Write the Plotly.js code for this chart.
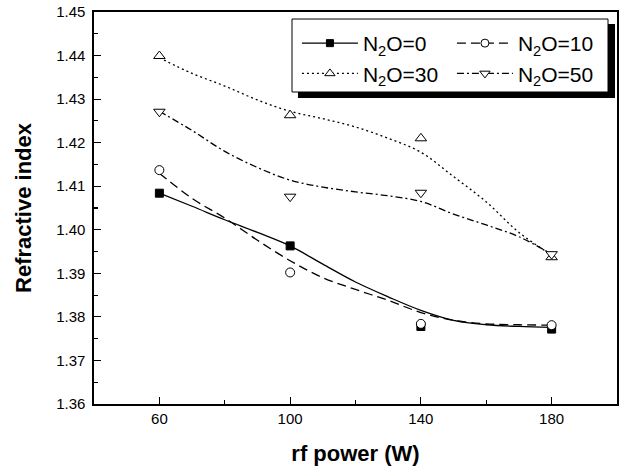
<!DOCTYPE html>
<html>
<head>
<meta charset="utf-8">
<script src="https://cdn.plot.ly/plotly-3.0.1.min.js"></script>
<style>html,body{margin:0;padding:0;background:#fff;}#chart{width:622px;height:470px;}</style>
</head>
<body>
<div id="chart"></div>
<script>
// measured points
const power = [60, 100, 140, 180];
const n0  = [1.4084, 1.3963, 1.3778, 1.3772];
const n10 = [1.4137, 1.3902, 1.3784, 1.3781];
const n30 = [1.4399, 1.4263, 1.4210, 1.3937];
const n50 = [1.4271, 1.4076, 1.4085, 1.3944];

// smoothed curves
const fitPower = [60, 70, 80, 90, 100, 110, 120, 130, 140, 150, 160, 170, 180];
const fit0  = [1.4084, 1.4054, 1.4023, 1.3994, 1.3963, 1.3921, 1.3880, 1.3846, 1.3815, 1.3792, 1.3782, 1.3778, 1.3776];
const fit10 = [1.4130, 1.4072, 1.4027, 1.3976, 1.3929, 1.3890, 1.3863, 1.3838, 1.3810, 1.3792, 1.3784, 1.3782, 1.3781];
const fit30 = [1.4395, 1.4359, 1.4330, 1.4298, 1.4272, 1.4255, 1.4236, 1.4210, 1.4178, 1.4122, 1.4064, 1.3994, 1.3942];
const fit50 = [1.4272, 1.4228, 1.4180, 1.4143, 1.4114, 1.4098, 1.4087, 1.4078, 1.4065, 1.4036, 1.4011, 1.3984, 1.3944];

const labels = ['N<sub>2</sub>O=0', 'N<sub>2</sub>O=10', 'N<sub>2</sub>O=30', 'N<sub>2</sub>O=50'];
const groups = ['a', 'b', 'a', 'b'];

const pts = [n0, n10, n30, n50];
const fits = [fit0, fit10, fit30, fit50];
const dashes = ['solid', '9px,5px', '2px,3px', '7px,3px,2px,3px'];
const symbols = ['square', 'circle', 'triangle-up', 'triangle-down'];
const fills = ['black', 'white', 'white', 'white'];
const sizes = [8, 9, 10, 10];

const traces = [];
for (let i = 0; i < 4; i++) {
  traces.push({
    x: fitPower, y: fits[i], mode: 'lines', type: 'scatter',
    line: {color: 'black', width: 1.3, dash: dashes[i], shape: 'spline', smoothing: 1},
    showlegend: false, hoverinfo: 'skip'
  });
}
for (let i = 0; i < 4; i++) {
  traces.push({
    x: power, y: pts[i], mode: 'markers', type: 'scatter',
    marker: {symbol: symbols[i], size: sizes[i], color: fills[i], line: {color: 'black', width: 1}},
    showlegend: false
  });
}
// legend entries
for (let i = 0; i < 4; i++) {
  traces.push({
    x: [null], y: [null], mode: 'lines+markers', type: 'scatter',
    name: labels[i], legendgroup: groups[i],
    line: {color: 'black', width: 1.3, dash: dashes[i]},
    marker: {symbol: symbols[i], size: sizes[i] - 1, color: fills[i], line: {color: 'black', width: 1}}
  });
}

const font = 'Arial, "Liberation Sans", sans-serif';
const layout = {
  width: 622, height: 470,
  margin: {l: 94, r: 5, t: 12, b: 66},
  paper_bgcolor: 'white', plot_bgcolor: 'white',
  font: {family: font, color: 'black'},
  xaxis: {
    range: [40, 200], tick0: 20, dtick: 40,
    ticks: 'inside', ticklen: 7, tickwidth: 1.2, tickcolor: 'black',
    minor: {tick0: 20, dtick: 20, ticks: 'inside', ticklen: 4, tickwidth: 1.2, tickcolor: 'black'},
    showline: true, linecolor: 'black', linewidth: 1.6, mirror: true,
    showgrid: false, zeroline: false,
    tickfont: {size: 15, family: font},
    title: {text: 'rf power (W)', font: {size: 22, family: font, weight: 700}, standoff: 20}
  },
  yaxis: {
    range: [1.36, 1.45], dtick: 0.01, tickformat: '.2f',
    ticks: 'inside', ticklen: 7, tickwidth: 1.2, tickcolor: 'black',
    minor: {dtick: 0.005, ticks: 'inside', ticklen: 4, tickwidth: 1.2, tickcolor: 'black'},
    showline: true, linecolor: 'black', linewidth: 1.6, mirror: true,
    showgrid: false, zeroline: false,
    tickfont: {size: 15, family: font},
    ticklabelstandoff: 4,
    title: {text: 'Refractive index', font: {size: 22, family: font, weight: 700}, standoff: 18}
  },
  legend: {
    orientation: 'h', x: 0.388, y: 0.972, xanchor: 'left', yanchor: 'top',
    bgcolor: 'rgba(0,0,0,0)', borderwidth: 0,
    font: {size: 21, family: font}, itemwidth: 56, tracegroupgap: 0,
    entrywidth: 84, entrywidthmode: 'pixels',
    itemclick: false, itemdoubleclick: false
  },
  shapes: [
    {type: 'rect', xref: 'paper', yref: 'paper', x0: 0.390, x1: 0.9962, y0: 0.7806, y1: 0.9694,
     fillcolor: 'black', line: {width: 0}, layer: 'above'},
    {type: 'rect', xref: 'paper', yref: 'paper', x0: 0.3786, x1: 0.9828, y0: 0.7959, y1: 0.9821,
     fillcolor: 'white', line: {color: 'black', width: 1}, layer: 'above'}
  ],
  showlegend: true
};
Plotly.newPlot('chart', traces, layout, {displayModeBar: false, staticPlot: true});
</script>
</body>
</html>
